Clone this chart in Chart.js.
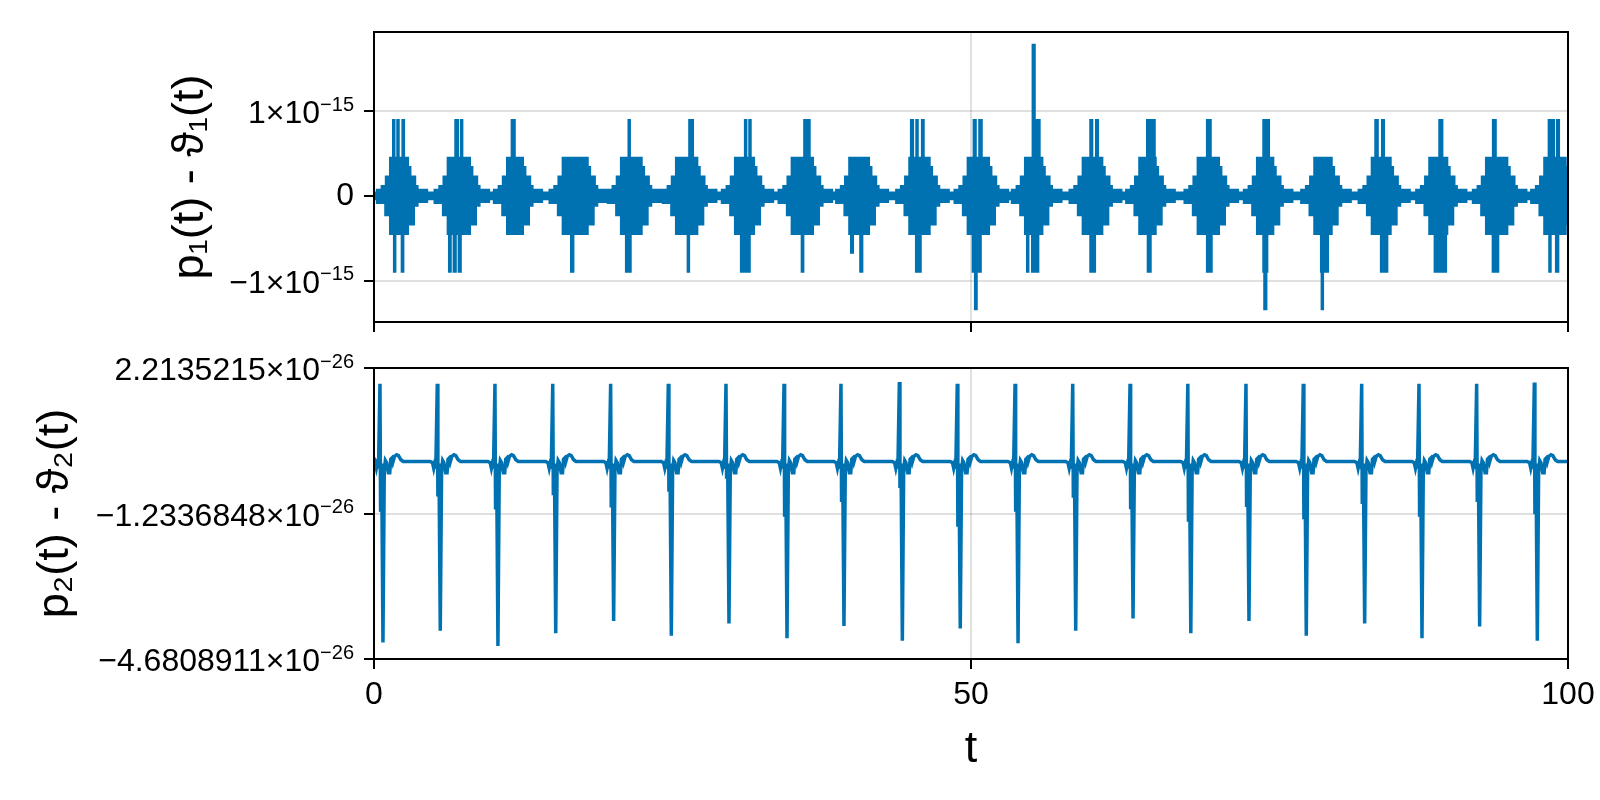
<!DOCTYPE html>
<html>
<head>
<meta charset="utf-8">
<script src="https://cdn.jsdelivr.net/npm/chart.js@4.4.1/dist/chart.umd.min.js"></script>
<style>
  html, body { margin: 0; padding: 0; background: #ffffff; }
  #wrap { position: relative; width: 1600px; height: 800px; overflow: hidden; background: #ffffff; }
  canvas { position: absolute; left: 0; }
  #c1 { top: 0; width: 1600px; height: 340px; }
  #c2 { top: 340px; width: 1600px; height: 460px; }
</style>
</head>
<body>
<div id="wrap">
  <canvas id="c1" width="1600" height="340"></canvas>
  <canvas id="c2" width="1600" height="460"></canvas>
</div>
<script>
// ---------------- DATA ----------------
// shared x axis
const xTickValues = [0, 50, 100];
const xTickLabels = ['0', '50', '100'];
const xTitle = 't';

// ---- top panel: p1(t) - θ1(t), values are multiples of U = 2^-53 ----
const U = Math.pow(2, -53);
const p1Title = 'p₁(t) - ϑ₁(t)';
const p1YMin = -1.4877e-15;
const p1YMax = 1.9318e-15;
const p1TickValues = [-1e-15, 0, 1e-15];
const p1TickLabels = ['−1×10⁻¹⁵', '0', '1×10⁻¹⁵'];
// core of every burst [t start, t end], level ±4U
const p1Core = [
  [1.38, 2.81], [6.21, 8.00], [11.18, 12.44], [15.84, 17.86], [20.72, 22.38],
  [25.33, 27.04], [30.27, 31.79], [35.02, 36.73], [39.84, 41.42], [44.87, 46.50],
  [49.76, 51.47], [54.56, 55.94], [59.39, 60.96], [64.13, 65.43], [69.02, 70.73],
  [73.99, 75.28], [78.79, 80.17], [83.60, 85.11], [88.42, 89.85], [93.17, 94.88],
  [98.05, 99.77]
];
const p1CoreLevel = 4;
// shoulders of a burst: [from, to (t, relative to core start / end), level in U]
const p1UpperBefore = [[-1.1, -0.7, 0.6], [-0.7, -0.35, 1], [-0.35, 0, 2]];
const p1UpperAfter  = [[0, 0.2, 3], [0.2, 0.6, 2], [0.6, 0.8, 1], [0.8, 1.6, 0.6]];
const p1LowerBefore = [[-1.1, -0.4, -0.7], [-0.4, 0, -2]];
const p1LowerAfter  = [[0, 0.5, -3], [0.5, 0.8, -1], [0.8, 1.6, -0.6]];
const p1WaistUpper = 0.3;
const p1WaistLower = -0.3;
// isolated spikes [t start, t end, level in U]
const p1UpSpikes = [
  [1.635, 1.675, 8], [1.99, 2.03, 8], [2.42, 2.48, 8],
  [6.85, 7.00, 8], [7.32, 7.36, 8],
  [11.57, 11.75, 8],
  [21.355, 21.395, 8],
  [26.44, 26.68, 8],
  [31.105, 31.145, 8], [31.47, 31.51, 8],
  [36.07, 36.45, 8],
  [45.01, 45.11, 8], [45.46, 45.50, 8], [45.93, 46.00, 8],
  [50.26, 50.36, 8], [50.73, 50.86, 8],
  [55.20, 55.71, 8], [55.20, 55.30, 16],
  [60.03, 60.12, 8], [60.51, 60.60, 8],
  [64.78, 65.35, 8],
  [69.80, 70.04, 8],
  [74.52, 74.92, 8],
  [83.90, 84.03, 8], [84.46, 84.55, 8],
  [89.26, 89.44, 8],
  [93.75, 93.91, 8],
  [98.42, 98.79, 8], [99.11, 99.21, 8]
];
const p1DownSpikes = [
  [1.71, 1.75, -8], [2.36, 2.42, -8],
  [6.32, 6.39, -8], [6.71, 6.81, -8], [7.13, 7.23, -8],
  [16.54, 16.66, -8],
  [21.14, 21.46, -8],
  [26.31, 26.35, -8],
  [30.77, 31.43, -8],
  [35.86, 35.92, -8],
  [39.99, 40.08, -6], [40.76, 40.86, -8],
  [45.43, 45.75, -8],
  [50.18, 50.78, -8], [50.37, 50.44, -12],
  [54.73, 54.77, -8], [55.15, 55.60, -8],
  [60.03, 60.35, -8],
  [64.84, 65.01, -8],
  [69.80, 70.12, -8],
  [74.52, 74.78, -8], [74.60, 74.70, -12],
  [79.35, 79.86, -8], [79.405, 79.445, -12],
  [84.37, 84.83, -8],
  [88.87, 89.75, -8],
  [93.73, 94.12, -8],
  [98.47, 98.51, -8], [99.03, 99.15, -8]
];

// ---- bottom panel: p2(t) - θ2(t), values in units of 1e-26 ----
const P2_UNIT = 1e-26;
const p2Title = 'p₂(t) - ϑ₂(t)';
const p2TickValues = [-4.6808911e-26, -1.2336848e-26, 2.2135215e-26];
const p2TickLabels = ['−4.6808911×10⁻²⁶', '−1.2336848×10⁻²⁶', '2.2135215×10⁻²⁶'];
const p2Start = -0.10;
const p2End = 0.0;
// one event per period: time of the up spike, its height, the first dip, the deep dip
const p2SpikeT = [0.50, 5.30, 10.13, 14.97, 19.82, 24.65, 29.48, 34.34, 39.11, 44.00, 48.85,
                  53.69, 58.52, 63.32, 68.16, 73.03, 77.83, 82.72, 87.52, 92.35, 97.18];
const p2Peak = [1.84, 1.84, 1.84, 1.84, 1.84, 1.84, 1.84, 1.84, 1.84, 1.88, 1.84,
                1.84, 1.84, 1.84, 1.84, 1.84, 1.84, 1.84, 1.84, 1.84, 1.87];
const p2Sec = [-1.19, -0.83, -1.14, -0.80, -1.09, -0.72, -0.41, -1.31, -0.96, -0.63, -1.55,
               -1.19, -0.86, -1.13, -1.43, -1.08, -1.37, -1.01, -1.31, -0.96, -1.25];
const p2Deep = [-4.29, -4.01, -4.37, -4.07, -3.78, -4.13, -3.84, -4.19, -3.90, -4.25, -3.96,
                -4.31, -4.01, -3.72, -4.07, -3.78, -4.13, -3.84, -4.19, -3.91, -4.25];
// small wiggles around each event: offset in t from the spike, value (or which event value)
const p2ShapeT = [-0.60, -0.40, -0.30, -0.22, -0.12, 0.00, 0.05, 0.14, 0.25, 0.36, 0.45, 0.55,
                  0.70, 0.82, 0.90, 1.00, 1.08, 1.22, 1.40, 1.55, 1.75, 1.95];
const p2ShapeV = [0, -0.03, -0.16, -0.05, -0.10, 'peak', 'sec', -0.05, 'deep', -0.22, 0.02, -0.03,
                  -0.27, -0.27, 0.05, 0.08, -0.02, 0.12, 0.16, 0.14, 0.04, 0];

// ---------------- BUILD ----------------
function envelope(before, after, spikes, waist, coreLevel, pick) {
  const iv = [[0, 100, waist]];
  p1Core.forEach(([L, R]) => {
    before.forEach(([a, b, lv]) => iv.push([L + a, L + b, lv]));
    iv.push([L, R, coreLevel]);
    after.forEach(([a, b, lv]) => iv.push([R + a, R + b, lv]));
  });
  spikes.forEach(s => iv.push(s));
  const cuts = [...new Set(iv.flatMap(([a, b]) => [a, b])
      .map(v => Math.min(100, Math.max(0, Math.round(v * 1000) / 1000))))].sort((a, b) => a - b);
  const pts = [];
  for (let k = 0; k < cuts.length - 1; k++) {
    const m = (cuts[k] + cuts[k + 1]) / 2;
    let lv = waist;
    iv.forEach(([a, b, l]) => { if (m >= a && m < b) lv = pick(lv, l); });
    pts.push({ x: cuts[k], y: lv * U });
  }
  pts.push({ x: 100, y: pts[pts.length - 1].y });
  return pts;
}
const p1Upper = envelope(p1UpperBefore, p1UpperAfter, p1UpSpikes, p1WaistUpper, p1CoreLevel, Math.max);
const p1Lower = envelope(p1LowerBefore, p1LowerAfter, p1DownSpikes, p1WaistLower, -p1CoreLevel, Math.min);

const p2Data = [{ x: 0, y: p2Start * P2_UNIT }];
p2SpikeT.forEach((t0, i) => {
  p2ShapeT.forEach((dt, k) => {
    const t = t0 + dt;
    if (t <= 0 || t >= 100) return;
    const s = p2ShapeV[k];
    const v = s === 'peak' ? p2Peak[i] : s === 'sec' ? p2Sec[i] : s === 'deep' ? p2Deep[i] : s;
    p2Data.push({ x: t, y: v * P2_UNIT });
  });
});
p2Data.push({ x: 100, y: p2End * P2_UNIT });

// ---------------- STYLE ----------------
const FONT = "'Liberation Sans', 'DejaVu Sans', sans-serif";
const BLUE = '#0072B2';
const GRID = 'rgba(0,0,0,0.12)';
const TICK_FONT = 32, EXP_FONT = 20, TITLE_FONT = 45;

const frame = {
  id: 'frame',
  afterDatasetsDraw(chart) {
    const { ctx, chartArea: a } = chart;
    ctx.save();
    ctx.strokeStyle = '#000';
    ctx.lineWidth = 2;
    ctx.strokeRect(a.left, a.top, a.right - a.left, a.bottom - a.top);
    ctx.restore();
  }
};

// y tick labels as "mantissa×10" with a raised exponent
const SUP = { '⁻': '−', '⁰': '0', '¹': '1', '²': '2', '³': '3', '⁴': '4', '⁵': '5', '⁶': '6', '⁷': '7', '⁸': '8', '⁹': '9' };
const sciLabels = {
  id: 'sciLabels',
  afterDraw(chart, args, opts) {
    const s = chart.scales.y, ctx = chart.ctx;
    const right = s.right - 20;
    ctx.save();
    ctx.fillStyle = '#000';
    ctx.textBaseline = 'middle';
    ctx.textAlign = 'right';
    opts.values.forEach((v, i) => {
      const label = opts.labels[i];
      const m = label.match(/^(.*?)([⁻⁰¹²³⁴⁵⁶⁷⁸⁹]*)$/);
      const base = m[1], exp = m[2].split('').map(c => SUP[c]).join('');
      const y = s.getPixelForValue(v);
      let ew = 0;
      if (exp) {
        ctx.font = EXP_FONT + 'px ' + FONT;
        ew = ctx.measureText(exp).width;
        ctx.fillText(exp, right, y - 6);
      }
      ctx.font = TICK_FONT + 'px ' + FONT;
      ctx.fillText(base, right - ew, exp ? y + 3.5 : y + 0.5);
    });
    ctx.restore();
  }
};

const gridOpts = { color: GRID, lineWidth: 2, tickColor: '#000', tickWidth: 2, tickLength: 10 };

function xAxis(showLabels, height) {
  return {
    type: 'linear', min: 0, max: 100,
    afterBuildTicks: s => { s.ticks = xTickValues.map(v => ({ value: v })); },
    afterFit: s => { s.height = height; s.paddingLeft = 0; s.paddingRight = 0; },
    ticks: { display: showLabels, callback: (v, i) => xTickLabels[i], font: { family: FONT, size: TICK_FONT },
             color: '#000', padding: 7, maxRotation: 0, autoSkip: false },
    grid: gridOpts,
    border: { display: false },
    title: { display: showLabels, text: xTitle, font: { family: FONT, size: TITLE_FONT }, color: '#000',
             padding: { top: 0, bottom: 23 } }
  };
}
function yAxis(min, max, vals, title, titlePad) {
  return {
    type: 'linear', min: min, max: max,
    afterBuildTicks: s => { s.ticks = vals.map(v => ({ value: v })); },
    afterFit: s => { s.width = 374; s.paddingTop = 0; s.paddingBottom = 0; },
    ticks: { display: false },
    grid: gridOpts,
    border: { display: false },
    title: { display: true, text: title, font: { family: FONT, size: TITLE_FONT }, color: '#000',
             padding: { top: titlePad, bottom: 0 } }
  };
}
function common(tickVals, tickLabels) {
  return {
    responsive: false, maintainAspectRatio: false, animation: false, devicePixelRatio: 1,
    plugins: { legend: { display: false }, tooltip: { enabled: false },
               sciLabels: { values: tickVals, labels: tickLabels } },
    elements: { point: { radius: 0 } }
  };
}

new Chart(document.getElementById('c1'), {
  type: 'line',
  data: {
    datasets: [
      { data: p1Upper, borderColor: BLUE, backgroundColor: BLUE, borderWidth: 3, stepped: true,
        fill: { target: { value: -0.2 * U } }, pointRadius: 0 },
      { data: p1Lower, borderColor: BLUE, backgroundColor: BLUE, borderWidth: 3, stepped: true,
        fill: { target: { value: 0.2 * U } }, pointRadius: 0 }
    ]
  },
  options: Object.assign(common(p1TickValues, p1TickLabels), {
    layout: { padding: { top: 32, right: 32, left: 0, bottom: 0 } },
    scales: {
      x: xAxis(false, 18),
      y: yAxis(p1YMin, p1YMax, p1TickValues, p1Title, 164)
    }
  }),
  plugins: [frame, sciLabels]
});

new Chart(document.getElementById('c2'), {
  type: 'line',
  data: {
    datasets: [
      { data: p2Data, borderColor: BLUE, borderWidth: 3.5, fill: false, tension: 0, pointRadius: 0 }
    ]
  },
  options: Object.assign(common(p2TickValues, p2TickLabels), {
    layout: { padding: { top: 28, right: 32, left: 0, bottom: 0 } },
    scales: {
      x: xAxis(true, 141),
      y: yAxis(p2TickValues[0], p2TickValues[2], p2TickValues, p2Title, 29)
    }
  }),
  plugins: [frame, sciLabels]
});
</script>
</body>
</html>
